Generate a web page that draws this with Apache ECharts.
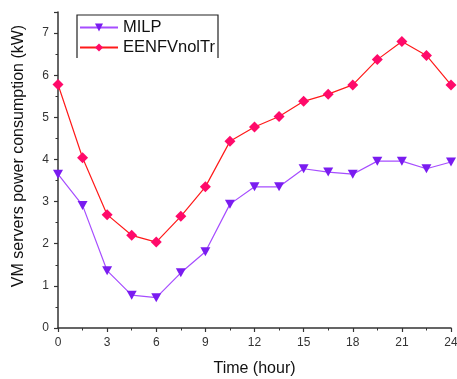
<!DOCTYPE html>
<html>
<head>
<meta charset="utf-8">
<script src="https://cdn.jsdelivr.net/npm/echarts@6/dist/echarts.min.js"></script>
<style>
  html, body { margin: 0; padding: 0; background: #fff; }
  #chart { width: 457px; height: 379px; }
</style>
</head>
<body>
<div id="chart"></div>
<script>
// Hour of day for each sample
const hours = [0, 1.5, 3, 4.5, 6, 7.5, 9, 10.5, 12, 13.5, 15, 16.5, 18, 19.5, 21, 22.5, 24];
// VM servers power consumption (kW)
const milp = [3.65, 2.91, 1.36, 0.78, 0.72, 1.31, 1.81, 2.94, 3.35, 3.35, 3.78, 3.70, 3.65, 3.96, 3.96, 3.78, 3.94];
const eenfvnoltr = [5.78, 4.04, 2.69, 2.20, 2.04, 2.65, 3.35, 4.43, 4.77, 5.02, 5.38, 5.55, 5.77, 6.37, 6.80, 6.47, 5.77];
const seriesNames = ['MILP', 'EENFVnolTr'];

const FONT = '"Liberation Sans", Arial, sans-serif';
const pair = (xs, ys) => xs.map((x, i) => [x, ys[i]]);

const chart = echarts.init(document.getElementById('chart'), null, { renderer: 'canvas' });

chart.setOption({
  animation: false,
  backgroundColor: '#fff',
  grid: { left: 58, right: 6, top: 12, bottom: 51, containLabel: false, outerBoundsMode: 'none' },
  xAxis: {
    type: 'value',
    min: 0, max: 24, interval: 3,
    name: 'Time (hour)',
    nameLocation: 'middle',
    nameGap: 33,
    nameTextStyle: { fontFamily: FONT, fontSize: 16, color: '#111' },
    axisLine: { show: true, lineStyle: { color: '#333', width: 1.5 } },
    axisTick: { show: true, length: 4, lineStyle: { color: '#333', width: 1.2 } },
    minorTick: { show: true, splitNumber: 2, length: 2.5, lineStyle: { color: '#333', width: 1 } },
    axisLabel: { fontFamily: FONT, fontSize: 12, color: '#333', margin: 9 },
    splitLine: { show: false }
  },
  yAxis: {
    type: 'value',
    min: 0, max: 7.5, interval: 1,
    name: 'VM servers power consumption (kW)',
    nameLocation: 'middle',
    nameGap: 31,
    nameTextStyle: { fontFamily: FONT, fontSize: 16, color: '#111', padding: [0, 0, 0, 28] },
    axisLine: { show: true, lineStyle: { color: '#333', width: 1.5 } },
    axisTick: { show: true, length: 4, lineStyle: { color: '#333', width: 1.2 } },
    minorTick: { show: true, splitNumber: 2, length: 2.5, lineStyle: { color: '#333', width: 1 } },
    axisLabel: { fontFamily: FONT, fontSize: 12, color: '#333', margin: 9, showMaxLabel: false,
      formatter: v => (Number.isInteger(v) ? String(v) : '') },
    splitLine: { show: false }
  },
  legend: {
    orient: 'vertical',
    left: 79, top: 19,
    padding: 0,
    itemWidth: 38, itemHeight: 10,
    itemGap: 3,
    data: seriesNames,
    textStyle: { fontFamily: FONT, fontSize: 16.5, color: '#111' }
  },
  graphic: [{
    type: 'polyline',
    shape: { points: [[77, 58], [77, 15], [218, 15], [218, 58]] },
    style: { stroke: '#222', lineWidth: 1.2, fill: null },
    silent: true
  }],
  series: [
    {
      name: seriesNames[0],
      type: 'line',
      data: pair(hours, milp),
      symbol: 'triangle',
      symbolRotate: 180,
      symbolSize: [10, 9],
      lineStyle: { color: '#a64dff', width: 1.2 },
      itemStyle: { color: '#7a1cf0' }
    },
    {
      name: seriesNames[1],
      type: 'line',
      data: pair(hours, eenfvnoltr),
      symbol: 'diamond',
      symbolSize: [11, 11],
      lineStyle: { color: '#ff1a1a', width: 1.2 },
      itemStyle: { color: '#ff0a6a' }
    }
  ]
});
</script>
</body>
</html>
